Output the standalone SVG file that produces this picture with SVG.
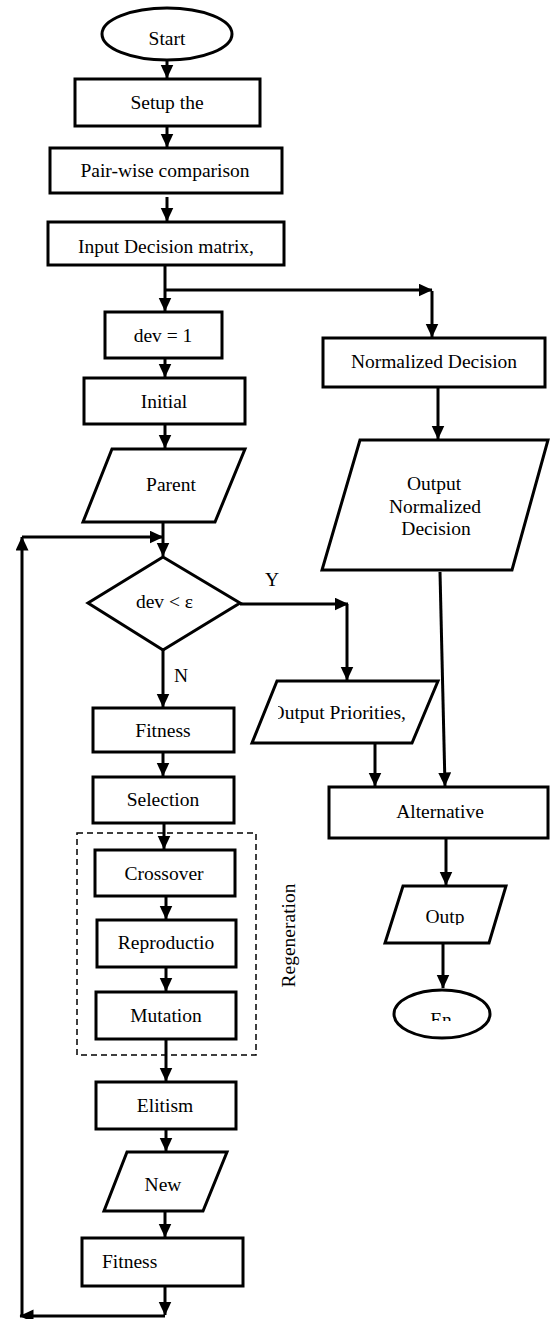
<svg xmlns="http://www.w3.org/2000/svg" width="550" height="1319" viewBox="0 0 550 1319">
<style>
.s{fill:#fff;stroke:#000;stroke-width:3}
.t{font-family:"Liberation Serif","Times New Roman",serif;font-size:19.5px;fill:#000;text-anchor:middle}
.c{fill:none;stroke:#000;stroke-width:3}
.d{fill:none;stroke:#000;stroke-width:1.5;stroke-dasharray:6 4}
</style>
<defs>
<marker id="ah" markerUnits="userSpaceOnUse" markerWidth="15" markerHeight="14" refX="13.5" refY="6.5" orient="auto">
<path d="M0,0 L14,6.5 L0,13 z" fill="#000"/>
</marker>
<clipPath id="cpOP"><rect x="278" y="680" width="170" height="70"/></clipPath>
<clipPath id="cpOutp"><rect x="380" y="880" width="130" height="45"/></clipPath>
<clipPath id="cpEn"><rect x="390" y="985" width="110" height="36"/></clipPath>
</defs>
<rect width="550" height="1319" fill="#fff"/>

<g id="connectors">
<line class="c" x1="167" y1="60" x2="167" y2="78" marker-end="url(#ah)"/>
<line class="c" x1="167" y1="126" x2="167" y2="147" marker-end="url(#ah)"/>
<line class="c" x1="167" y1="197" x2="167" y2="221" marker-end="url(#ah)"/>
<line class="c" x1="165" y1="265" x2="165" y2="311" marker-end="url(#ah)"/>
<line class="c" x1="165" y1="290" x2="432" y2="290" marker-end="url(#ah)"/>
<line class="c" x1="432" y1="291" x2="432" y2="337" marker-end="url(#ah)"/>
<line class="c" x1="165" y1="358" x2="165" y2="377" marker-end="url(#ah)"/>
<line class="c" x1="165" y1="424" x2="165" y2="448" marker-end="url(#ah)"/>
<line class="c" x1="163" y1="522" x2="163" y2="556" marker-end="url(#ah)"/>
<line class="c" x1="22" y1="537" x2="163" y2="537" marker-end="url(#ah)"/>
<line class="c" x1="22" y1="1316" x2="22" y2="537" marker-end="url(#ah)"/>
<line class="c" x1="165" y1="1316" x2="20" y2="1316" marker-end="url(#ah)"/>
<line class="c" x1="165" y1="1286" x2="165" y2="1315" marker-end="url(#ah)"/>
<line class="c" x1="240" y1="604" x2="348" y2="604" marker-end="url(#ah)"/>
<line class="c" x1="347" y1="604" x2="347" y2="680" marker-end="url(#ah)"/>
<line class="c" x1="163" y1="650" x2="163" y2="707" marker-end="url(#ah)"/>
<line class="c" x1="163" y1="752" x2="163" y2="776" marker-end="url(#ah)"/>
<line class="c" x1="164" y1="823" x2="164" y2="849" marker-end="url(#ah)"/>
<line class="c" x1="166" y1="896" x2="166" y2="919" marker-end="url(#ah)"/>
<line class="c" x1="166" y1="967" x2="166" y2="991" marker-end="url(#ah)"/>
<line class="c" x1="166" y1="1039" x2="166" y2="1081" marker-end="url(#ah)"/>
<line class="c" x1="166" y1="1129" x2="166" y2="1151" marker-end="url(#ah)"/>
<line class="c" x1="165" y1="1211" x2="165" y2="1237" marker-end="url(#ah)"/>
<line class="c" x1="438" y1="387" x2="438" y2="439" marker-end="url(#ah)"/>
<line class="c" x1="440" y1="572" x2="445" y2="786" marker-end="url(#ah)"/>
<line class="c" x1="375" y1="743" x2="375" y2="786" marker-end="url(#ah)"/>
<line class="c" x1="446" y1="838" x2="446" y2="885" marker-end="url(#ah)"/>
<line class="c" x1="443" y1="943" x2="443" y2="988" marker-end="url(#ah)"/>
</g>

<g id="start"><ellipse class="s" cx="167" cy="34" rx="65" ry="26"/><text class="t" x="167" y="45">Start</text></g>
<g id="setup"><rect class="s" x="75" y="79" width="185" height="47"/><text class="t" x="167" y="109">Setup the</text></g>
<g id="pairwise"><rect class="s" x="50" y="148" width="232" height="45"/><text class="t" x="165" y="177">Pair-wise comparison</text></g>
<g id="input"><rect class="s" x="48" y="222" width="236" height="43"/><text class="t" x="166" y="253">Input Decision matrix,</text></g>
<g id="dev1"><rect class="s" x="105" y="312" width="117" height="46"/><text class="t" x="163" y="342">dev = 1</text></g>
<g id="initial"><rect class="s" x="84" y="378" width="161" height="46"/><text class="t" x="164" y="408">Initial</text></g>
<g id="parent"><polygon class="s" points="112,449 245,449 215,522 83,522"/><text class="t" x="171" y="491">Parent</text></g>
<g id="decision"><polygon class="s" points="163,557 240,603 163,650 88,603"/><text class="t" x="164.5" y="608">dev &lt; ε</text></g>
<text class="t" x="272" y="586">Y</text>
<text class="t" x="181" y="682">N</text>
<g id="fitness1"><rect class="s" x="93" y="708" width="141" height="44"/><text class="t" x="163" y="737">Fitness</text></g>
<g id="selection"><rect class="s" x="93" y="777" width="141" height="46"/><text class="t" x="163" y="806">Selection</text></g>
<g id="regeneration"><rect class="d" x="77" y="833" width="179" height="222"/><text class="t" transform="translate(295,935.5) rotate(-90)">Regeneration</text></g>
<g id="crossover"><rect class="s" x="95" y="850" width="140" height="46"/><text class="t" x="164" y="880">Crossover</text></g>
<g id="reproduction"><rect class="s" x="97" y="920" width="139" height="47"/><text class="t" x="166" y="949">Reproductio</text></g>
<g id="mutation"><rect class="s" x="96" y="992" width="140" height="47"/><text class="t" x="166" y="1022">Mutation</text></g>
<g id="elitism"><rect class="s" x="96" y="1082" width="140" height="47"/><text class="t" x="165" y="1112">Elitism</text></g>
<g id="new"><polygon class="s" points="127,1152 227,1152 203,1211 104,1211"/><text class="t" x="163" y="1191">New</text></g>
<g id="fitness2"><rect class="s" x="82" y="1238" width="161" height="48"/><text class="t" x="102" y="1268" style="text-anchor:start">Fitness</text></g>
<g id="normalized"><rect class="s" x="323" y="338" width="222" height="49"/><text class="t" x="434" y="368">Normalized Decision</text></g>
<g id="outputNormalized"><polygon class="s" points="360,440 548,440 512,570 322,570"/><text class="t" x="434" y="490">Output</text><text class="t" x="435" y="513">Normalized</text><text class="t" x="436" y="535">Decision</text></g>
<g id="outputPriorities"><polygon class="s" points="277,681 438,681 412,743 252,743"/><text class="t" x="406" y="719" style="text-anchor:end" clip-path="url(#cpOP)">Output Priorities,</text></g>
<g id="alternative"><rect class="s" x="329" y="787" width="219" height="51"/><text class="t" x="440" y="818">Alternative</text></g>
<g id="outp"><polygon class="s" points="403,886 506,886 489,943 385,943"/><text class="t" x="445" y="923" clip-path="url(#cpOutp)">Outp</text></g>
<g id="end"><ellipse class="s" cx="442" cy="1014" rx="48" ry="24"/><text class="t" x="441" y="1026" clip-path="url(#cpEn)">En</text></g>
</svg>
